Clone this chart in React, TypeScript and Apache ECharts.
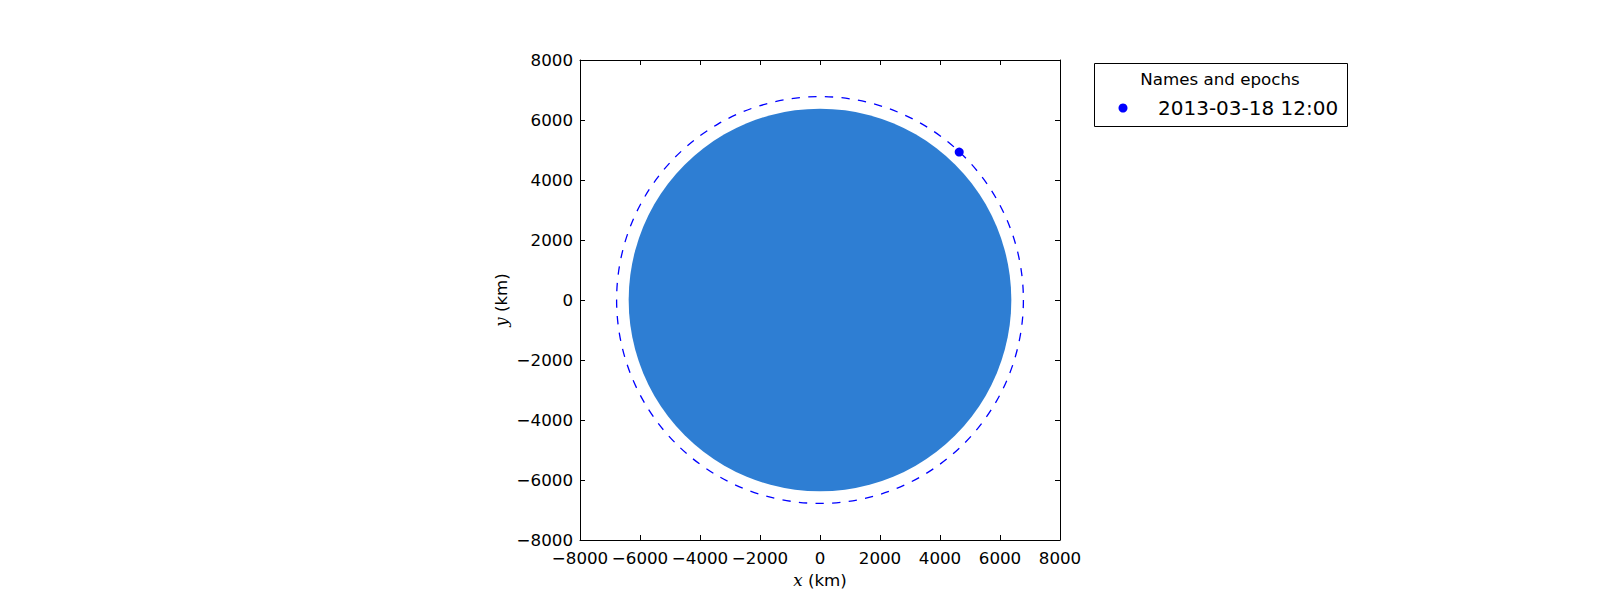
import React, { useEffect, useRef } from "react";
import * as echarts from "echarts";

const xTicks = [-8000, -6000, -4000, -2000, 0, 2000, 4000, 6000, 8000];
const yTicks = [-8000, -6000, -4000, -2000, 0, 2000, 4000, 6000, 8000];
const attractorBody = [[0, 0, 6378]]; // [cx, cy, radius] km
const orbitCircle = [[0, 0, 6780]]; // [cx, cy, radius] km
const satellitePosition = [[4640, 4930]];
const seriesName = "2013-03-18 12:00";
const legendTitle = "Names and epochs";

const FONT = "DejaVu Sans";
const fmt = (v: number) => String(v).replace("-", "\u2212");

export default function App() {
  const ref = useRef<HTMLDivElement>(null);
  useEffect(() => {
    if (!ref.current) return;
    const chart = echarts.init(ref.current, null, { renderer: "svg" });
    const axisCommon = {
      type: "value" as const,
      min: xTicks[0],
      max: xTicks[xTicks.length - 1],
      interval: 2000,
      splitLine: { show: false },
      axisLine: { show: true, onZero: false, lineStyle: { color: "#000", width: 1 } },
      axisTick: { show: true, inside: true, length: 5, lineStyle: { color: "#000" } },
    };
    const nameStyle = {
      color: "#000",
      fontSize: 16.7,
      fontFamily: FONT,
      rich: { i: { fontFamily: "DejaVu Serif", fontStyle: "italic", fontSize: 16.7, color: "#000" } },
    };
    chart.setOption({
      animation: false,
      textStyle: { fontFamily: FONT },
      grid: { left: 580, top: 60, width: 480, height: 480 },
      xAxis: [
        {
          ...axisCommon,
          position: "bottom",
          axisLabel: { formatter: fmt, color: "#000", fontSize: 16.7, fontFamily: FONT, margin: 9 },
          name: "{i|x} (km)",
          nameLocation: "middle",
          nameGap: 31,
          nameTextStyle: nameStyle,
        },
        { ...axisCommon, position: "top", axisLabel: { show: false } },
      ],
      yAxis: [
        {
          ...axisCommon,
          min: yTicks[0],
          max: yTicks[yTicks.length - 1],
          position: "left",
          axisLabel: { formatter: fmt, color: "#000", fontSize: 16.7, fontFamily: FONT, margin: 7 },
          name: "{i|y} (km)",
          nameLocation: "middle",
          nameGap: 71,
          nameTextStyle: nameStyle,
        },
        { ...axisCommon, min: yTicks[0], max: yTicks[yTicks.length - 1], position: "right", axisLabel: { show: false } },
      ],
      series: [
        {
          type: "custom",
          name: "attractor",
          z: 1,
          data: attractorBody,
          renderItem: (params: any, api: any) => {
            const c = api.coord([api.value(0), api.value(1)]);
            const r = api.size([api.value(2), 0])[0];
            return { type: "circle", shape: { cx: c[0], cy: c[1], r }, style: { fill: "#2e7ed3", stroke: "none" } };
          },
        },
        {
          type: "custom",
          name: "orbit",
          z: 2,
          data: orbitCircle,
          renderItem: (params: any, api: any) => {
            const c = api.coord([api.value(0), api.value(1)]);
            const r = api.size([api.value(2), 0])[0];
            return {
              type: "circle",
              shape: { cx: c[0], cy: c[1], r },
              style: { fill: "none", stroke: "#0000ff", lineWidth: 1.3, lineDash: [8.3, 8.3] },
            };
          },
        },
        {
          type: "scatter",
          name: seriesName,
          z: 3,
          symbol: "circle",
          symbolSize: 9,
          itemStyle: { color: "#0000ff", opacity: 1 },
          data: satellitePosition,
        },
      ],
      graphic: [
        {
          type: "rect",
          shape: { x: 1094.5, y: 63.5, width: 253, height: 63 },
          style: { fill: "#fff", stroke: "#000", lineWidth: 1 },
        },
        {
          type: "text",
          x: 1220,
          y: 79,
          style: { text: legendTitle, font: `16.7px "${FONT}"`, fill: "#000", align: "center", verticalAlign: "middle" },
        },
        { type: "circle", shape: { cx: 1123, cy: 108, r: 4.5 }, style: { fill: "#0000ff" } },
        {
          type: "text",
          x: 1158,
          y: 108,
          style: { text: seriesName, font: `20px "${FONT}"`, fill: "#000", align: "left", verticalAlign: "middle" },
        },
      ],
    });
    return () => chart.dispose();
  }, []);
  return <div ref={ref} style={{ width: 1600, height: 600, position: "absolute", left: 0, top: 0 }} />;
}
